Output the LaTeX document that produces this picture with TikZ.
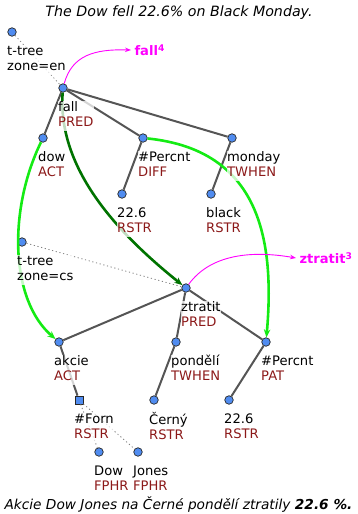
\documentclass[tikz,border=0pt]{standalone}
\usepackage{fontspec}
\setmainfont{DejaVu Sans}
\usetikzlibrary{arrows.meta}

\definecolor{nodeblue}{RGB}{80,140,240}
\definecolor{funcred}{RGB}{140,25,25}
\definecolor{edgegray}{RGB}{85,85,85}
\definecolor{alignlight}{RGB}{20,235,20}
\definecolor{aligndark}{RGB}{0,115,0}
\definecolor{lexpink}{RGB}{255,0,255}
\newcommand{\lab}[2]{\strut #1\\\strut\textcolor{funcred}{#2}}

\begin{document}
\begin{tikzpicture}[x=1pt,y=-1pt,
  tnode/.style={circle,draw=black!85,fill=nodeblue,line width=0.7pt,inner sep=0pt,minimum size=8.5pt},
  fnode/.style={rectangle,draw=black!85,fill=nodeblue,line width=0.7pt,inner sep=0pt,minimum size=8pt},
  lab/.style={anchor=north west,align=left,inner sep=0pt,fill=white,fill opacity=0.75,text opacity=1},
  sent/.style={font=\itshape\fontsize{14.2}{17}\selectfont},
  dep/.style={edgegray,line width=2pt},
  dots/.style={gray,line width=0.8pt,dash pattern=on 1.2pt off 2.6pt},
  lexarrow/.style={lexpink,line width=0.9pt,-{Stealth[length=6pt,width=4.5pt]}},
  lexword/.style={anchor=west,text=lexpink,font=\bfseries\fontsize{13.1}{15}\selectfont},
  alight/.style={alignlight,line width=2.6pt,-{Stealth[length=8pt,width=6.5pt]}},
  adark/.style={aligndark,line width=2.6pt,-{Stealth[length=8pt,width=6.5pt]}},
  font=\fontsize{13.1}{15}\selectfont]
  \useasboundingbox (0,0) rectangle (358,514);

  % sentences
  \node[sent] (senten) at (179,13) {The Dow fell 22.6\% on Black Monday.};
  \node[sent,font=\itshape\fontsize{13.7}{17}\selectfont] (sentcs) at (178.5,505) {Akcie Dow Jones na Černé pondělí ztratily \textbf{22.6 \%.}};

  % english tree
  \node[tnode] (enroot) at (12,32) {};
  \node[tnode] (fall) at (63,88) {};
  \node[tnode] (dow) at (43,138) {};
  \node[tnode] (percen) at (143,138) {};
  \node[tnode] (monday) at (232,138) {};
  \node[tnode] (numen) at (122,194) {};
  \node[tnode] (black) at (211,194) {};

  % czech tree
  \node[tnode] (csroot) at (22,242) {};
  \node[tnode] (ztratit) at (186,288) {};
  \node[tnode] (akcie) at (59,342) {};
  \node[tnode] (pondeli) at (176,342) {};
  \node[tnode] (percs) at (266,342) {};
  \node[fnode] (forn) at (79,400) {};
  \node[tnode] (cerny) at (154,400) {};
  \node[tnode] (numcs) at (229,400) {};
  \node[tnode] (dowcs) at (99,452) {};
  \node[tnode] (jones) at (138,452) {};

  % dependencies
  \draw[dep] (fall) -- (dow);
  \draw[dep] (fall) -- (percen);
  \draw[dep] (fall) -- (monday);
  \draw[dep] (percen) -- (numen);
  \draw[dep] (monday) -- (black);
  \draw[dep] (ztratit) -- (akcie);
  \draw[dep] (ztratit) -- (pondeli);
  \draw[dep] (ztratit) -- (percs);
  \draw[dep] (akcie) -- (forn);
  \draw[dep] (pondeli) -- (cerny);
  \draw[dep] (percs) -- (numcs);
  \draw[dots] (enroot) -- (fall);
  \draw[dots] (csroot) -- (ztratit);
  \draw[dots] (forn) -- (dowcs);
  \draw[dots] (forn) -- (jones);

  % alignment
  \draw[alight] (dow) .. controls (8,210) and (10,300) .. (akcie);
  \draw[alight] (percen) .. controls (260,150) and (275,240) .. (percs);
  \draw[adark] (fall) .. controls (57,170) and (120,235) .. (ztratit);

  % lexical links
  \node[lexword] (lexen) at (131,50) {fall\textsuperscript{4}};
  \node[lexword] (lexcs) at (296,258) {ztratit\textsuperscript{3}};
  \draw[lexarrow] (fall) .. controls (72,55) and (95,49) .. (lexen.west);
  \draw[lexarrow] (ztratit) .. controls (210,255) and (250,250) .. (lexcs.west);

  % labels
  \node[lab] (enroot-l) at (7,44.5) {\strut t-tree\\\strut zone=en};
  \node[lab] (fall-l) at (58,100.5) {\lab{fall}{PRED}};
  \node[lab] (dow-l) at (38,150.5) {\lab{dow}{ACT}};
  \node[lab] (percen-l) at (138,150.5) {\lab{\#Percnt}{DIFF}};
  \node[lab] (monday-l) at (227,150.5) {\lab{monday}{TWHEN}};
  \node[lab] (numen-l) at (117,206.5) {\lab{22.6}{RSTR}};
  \node[lab] (black-l) at (206,206.5) {\lab{black}{RSTR}};
  \node[lab] (csroot-l) at (17,254.5) {\strut t-tree\\\strut zone=cs};
  \node[lab] (ztratit-l) at (181,300.5) {\lab{ztratit}{PRED}};
  \node[lab] (akcie-l) at (54,354.5) {\lab{akcie}{ACT}};
  \node[lab] (pondeli-l) at (171,354.5) {\lab{pondělí}{TWHEN}};
  \node[lab] (percs-l) at (261,354.5) {\lab{\#Percnt}{PAT}};
  \node[lab] (forn-l) at (74,412.5) {\lab{\#Forn}{RSTR}};
  \node[lab] (cerny-l) at (149,412.5) {\lab{Černý}{RSTR}};
  \node[lab] (numcs-l) at (224,412.5) {\lab{22.6}{RSTR}};
  \node[lab] (dowcs-l) at (94,464.5) {\lab{Dow}{FPHR}};
  \node[lab] (jones-l) at (133,464.5) {\lab{Jones}{FPHR}};
\end{tikzpicture}
\end{document}
